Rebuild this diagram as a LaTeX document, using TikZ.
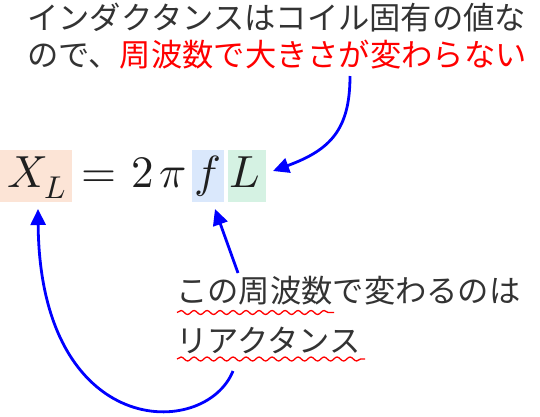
\documentclass[tikz,border=0pt]{standalone}
\usepackage{fontspec}
\usepackage{unicode-math}
\newfontfamily\jp{Noto Sans CJK JP}
\usetikzlibrary{arrows.meta,decorations.pathmorphing}
\definecolor{txtgray}{HTML}{333333}
\definecolor{hlred}{HTML}{FF0000}
\definecolor{boxsalmon}{HTML}{FCE4D6}
\definecolor{boxblue}{HTML}{DAE8FC}
\definecolor{boxgreen}{HTML}{D5F2E3}
\tikzset{
  jptext/.style={anchor=base west, inner sep=0pt, text=txtgray, font=\jp\fontsize{31.3}{36}\selectfont},
  mathtext/.style={anchor=base, inner sep=0pt, text=txtgray!60!black, font=\fontsize{45}{50}\selectfont},
  hlbox/.style={draw=none, inner sep=0pt, minimum width=#1},
  arrowline/.style={draw=blue, line width=2.8pt, -{Triangle[length=16pt,width=15pt]}},
  wavy/.style={draw=hlred, line width=1.3pt, decorate, decoration={snake, segment length=13pt, amplitude=2pt}}
}
\begin{document}
\begin{tikzpicture}[x=1pt,y=-1pt]
\useasboundingbox (0,0) rectangle (540,416);
% highlight boxes
\node[hlbox=72, minimum height=52, fill=boxsalmon] (bxl) at (36,176) {};
\node[hlbox=32, minimum height=52, fill=boxblue] (bf) at (208,176) {};
\node[hlbox=38, minimum height=52, fill=boxgreen] (bL) at (247,176) {};
% equation
\node[mathtext] (mxl) at (37,187) {$X_L$};
\node[mathtext] (meq) at (99,187) {$=$};
\node[mathtext] (m2) at (142.5,187) {$2$};
\node[mathtext] (mpi) at (173,187) {$\pi$};
\node[mathtext] (mf) at (208,187) {$f$};
\node[mathtext] (mL) at (245,187) {$L$};
% top text
\node[jptext] (t1) at (27,29) {インダクタンスはコイル固有の値な};
\node[jptext] (t2) at (27,66) {ので、\textcolor{hlred}{周波数で大きさが変わらない}};
% bottom text
\node[jptext] (b1) at (176,302) {この周波数で変わるのは};
\node[jptext] (b2) at (176,352) {リアクタンス};
% wavy underlines
\coordinate (w1s) at (177,312.5);
\coordinate (w1e) at (334,312.5);
\coordinate (w2s) at (177,359);
\coordinate (w2e) at (365,359);
\draw[wavy] (w1s) -- (w1e);
\draw[wavy] (w2s) -- (w2e);
% arrows
\coordinate (a1s) at (350,76);
\coordinate (a1e) at (273,171);
\draw[arrowline] (a1s) .. controls (350,130) and (330,150) .. (a1e);
\coordinate (a2s) at (238,273);
\coordinate (a2e) at (215,209);
\draw[arrowline] (a2s) -- (a2e);
\coordinate (a3s) at (233,371);
\coordinate (a3e) at (38,209);
\draw[arrowline] (a3s) .. controls (205,440) and (40,440) .. (a3e);
\end{tikzpicture}
\end{document}
